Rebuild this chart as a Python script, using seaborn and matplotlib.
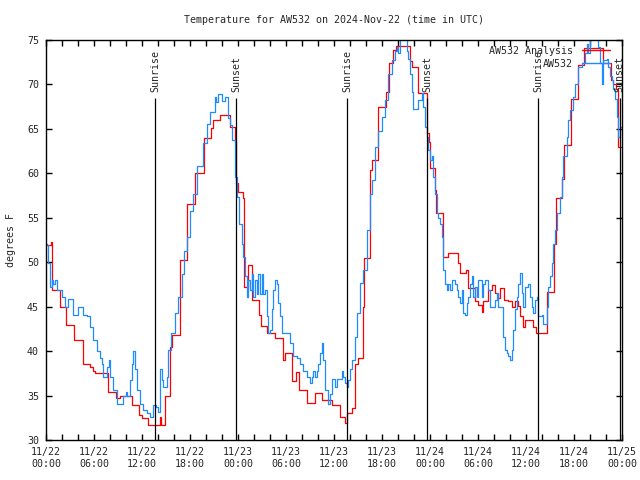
import numpy as np
import pandas as pd
import matplotlib
matplotlib.use("Agg")
import matplotlib.pyplot as plt
import matplotlib.dates as mdates
from matplotlib.lines import Line2D
import seaborn as sns

# hours since 2024-11-22 00:00 UTC
analysis_hours = [0, 0.6, 0.7, 0.8, 1.7, 2.55, 3.55, 4.65, 5.5, 5.9, 6.1, 7.8, 8.8, 9.2, 10.7,
                  11.6, 12.0, 12.8, 14.2, 14.4, 14.9, 15.5, 15.8, 16.7, 17.6, 18.6, 19.7, 20.6,
                  20.9, 21.75, 23.0, 23.6, 23.8, 24.0, 24.6, 24.75, 25.3, 25.7, 26.67, 26.85,
                  27.6, 28.6, 29.67, 29.9, 30.7, 31.3, 31.67, 32.67, 33.6, 34.5, 35.7, 36.75,
                  37.4, 37.6, 38.2, 38.6, 39.0, 39.6, 39.75, 40.5, 40.8, 41.5, 42.5, 42.9, 43.4,
                  43.8, 45.5, 45.7, 46.5, 47.67, 47.85, 48.0, 48.6, 48.7, 49.67, 50.3, 51.55,
                  51.75, 52.5, 52.8, 53.6, 54.0, 54.45, 54.6, 55.3, 55.7, 56.1, 56.5, 56.7, 57.2,
                  57.8, 58.2, 58.6, 59.0, 59.25, 59.65, 59.9, 60.9, 61.3, 62.6, 63.5, 63.75,
                  64.45, 64.75, 65.6, 66.5, 67.2, 69.65, 70.6, 70.9, 71.3, 71.55, 72.0]
analysis_temp = [51.9, 52.3, 49.5, 46.9, 45.0, 42.9, 41.25, 38.6, 38.2, 37.8, 37.5, 35.4, 34.7, 35.0, 33.9,
                 32.8, 32.5, 31.7, 32.6, 31.7, 34.9, 40.5, 41.8, 50.25, 56.6, 60.0, 64.0, 65.1,
                 66.0, 66.6, 65.25, 63.6, 58.9, 57.9, 57.2, 47.25, 49.7, 45.75, 44.1, 42.8,
                 42.0, 41.5, 39.0, 39.8, 36.6, 37.6, 35.6, 34.2, 35.3, 34.5, 33.9, 32.6,
                 31.9, 33.0, 33.6, 38.6, 39.2, 45.0, 50.5, 60.4, 61.5, 67.5, 69.2, 72.4, 73.9,
                 74.3, 72.6, 72.0, 69.0, 64.5, 63.5, 60.6, 58.1, 55.5, 50.6, 51.0, 49.9,
                 48.75, 49.1, 47.1, 45.6, 45.2, 44.4, 45.6, 46.9, 47.4, 46.5, 46.0, 47.1, 45.8,
                 45.6, 45.0, 45.6, 45.1, 43.9, 42.75, 43.5, 42.75, 42.0, 46.6, 52.1, 57.2,
                 59.4, 63.2, 68.4, 72.2, 74.1, 72.4, 70.5, 70.1, 69.5, 63.0, 63.0]

station_hours = [0, 0.08, 0.29, 0.5, 0.71, 0.92, 1.13, 1.33, 1.96, 2.38, 2.79, 3.42, 4.04, 4.67,
                 5.08, 5.5, 5.92, 6.33, 6.75, 6.96, 7.17, 7.58, 7.875, 8.0, 8.42, 8.92, 9.67,
                 10.0, 10.17, 10.5, 10.71, 10.92, 11.125, 11.33, 11.75, 12.08, 12.58, 13.0,
                 13.42, 13.75, 14.04, 14.25, 14.46, 14.67, 15.08, 15.29, 15.625, 16.125, 16.54,
                 16.96, 17.25, 17.58, 18.0, 18.42, 18.83, 19.67, 20.08, 20.5, 21.125, 21.3,
                 21.54, 21.96, 22.375, 22.79, 23.0, 23.3, 23.625, 23.83, 24.17, 24.46, 24.67,
                 24.875, 25.08, 25.29, 25.5, 25.71, 25.92, 26.125, 26.33, 26.54, 26.75, 26.96,
                 27.17, 27.375, 27.58, 27.79, 28.0, 28.2, 28.42, 28.625, 28.83, 29.04, 29.25,
                 29.46, 30.5, 30.92, 31.33, 31.75, 32.17, 32.58, 33.0, 33.2, 33.42, 33.625,
                 33.83, 34.04, 34.25, 34.46, 34.67, 34.875, 35.29, 35.5, 35.71, 36.125, 36.33,
                 36.96, 37.17, 37.375, 37.58, 37.79, 38.0, 38.2, 38.625, 38.83, 39.25, 39.67,
                 40.08, 40.5, 40.71, 41.125, 41.54, 41.96, 42.375, 42.79, 43.2, 43.625, 43.83,
                 44.04, 44.25, 44.67, 45.08, 45.29, 45.5, 45.71, 45.92, 46.33, 46.54, 46.96,
                 47.17, 47.375, 47.58, 47.79, 48.0, 48.2, 48.42, 48.625, 48.83, 49.04, 49.25,
                 49.46, 49.67, 49.875, 50.08, 50.29, 50.5, 50.71, 50.92, 51.125, 51.33, 51.54,
                 51.75, 51.96, 52.17, 52.375, 52.58, 52.79, 53.0, 53.2, 53.42, 53.625, 53.83,
                 54.04, 54.25, 54.46, 54.67, 54.875, 55.08, 55.29, 55.5, 55.92, 56.125, 56.33,
                 56.54, 56.96, 57.17, 57.375, 57.58, 57.79, 58.0, 58.2, 58.42, 58.625, 58.83,
                 59.04, 59.25, 59.46, 59.67, 59.875, 60.08, 60.29, 60.5, 60.71, 60.92, 61.125,
                 61.33, 61.54, 61.96, 62.17, 62.58, 62.79, 63.0, 63.2, 63.42, 63.625, 63.83,
                 64.25, 64.46, 64.67, 65.08, 65.29, 65.5, 65.92, 66.125, 66.54, 66.96, 67.375,
                 67.58, 67.79, 68.0, 68.83, 69.04, 69.25, 69.46, 69.67, 70.08, 70.29, 70.5,
                 70.71, 70.92, 71.125, 71.33, 71.54, 71.75, 72.0]
station_temp = [52.0, 51.9, 49.9, 47.2, 48.0, 47.5, 48.0, 46.9, 46.1, 45.0, 45.9, 44.1, 45.0, 44.1,
                43.9, 42.7, 41.3, 40.0, 39.2, 38.6, 37.1, 38.2, 39.0, 37.1, 35.6, 34.1, 34.9,
                35.4, 35.0, 36.8, 38.6, 40.0, 38.0, 35.6, 34.1, 33.4, 33.0, 32.6,
                33.9, 33.7, 33.2, 38.0, 36.8, 36.0, 37.1, 40.1, 42.0, 44.3, 46.1,
                48.7, 51.3, 52.8, 55.8, 57.7, 60.8, 63.4, 65.6, 66.9, 68.6, 68.0,
                68.9, 68.1, 68.6, 66.2, 65.4, 63.7, 59.6, 57.3, 54.3, 52.1, 50.6,
                48.4, 46.1, 48.0, 46.9, 48.7, 46.1, 48.0, 46.4, 48.7, 46.4, 48.7,
                46.4, 46.9, 43.9, 42.0, 42.4, 44.7, 46.9, 48.0, 47.6, 45.4, 43.9,
                42.0, 40.9, 39.4, 39.2, 38.6, 37.8, 37.1, 36.4, 37.1, 37.8, 37.1,
                37.8, 38.6, 39.8, 40.9, 39.0, 35.6, 34.1, 35.2, 36.9, 36.0, 36.9,
                37.8, 37.1, 36.4, 36.0, 36.8, 38.0, 39.0, 41.6, 44.3, 47.7, 49.1,
                53.6, 57.7, 59.2, 63.0, 64.8, 66.3, 68.2, 71.2, 72.7, 73.8, 74.2,
                73.5, 75.5, 75.5, 73.8, 72.9, 71.2, 69.2, 67.2, 67.2, 68.2, 69.0,
                67.5, 65.2, 64.1, 62.6, 61.5, 62.0, 59.6, 57.7, 55.5, 55.0, 54.3,
                52.8, 49.1, 47.6, 46.9, 47.6, 46.9, 48.0, 48.0, 47.6, 46.9, 46.1,
                45.4, 46.9, 44.3, 44.1, 45.4, 46.1, 47.6, 48.4, 46.1, 47.2, 46.1,
                48.0, 48.0, 46.1, 47.6, 48.0, 48.0, 46.9, 45.0, 45.0, 45.8, 46.5,
                45.0, 45.0, 41.6, 40.1, 39.8, 39.4, 39.0, 40.1, 42.4, 44.7, 46.1,
                47.6, 48.8, 46.5, 45.0, 47.2, 47.2, 47.6, 46.1, 45.0, 44.3, 45.8,
                46.1, 43.9, 44.1, 43.1, 45.0, 47.2, 48.4, 49.9, 52.1, 53.6, 55.5,
                57.3, 59.6, 61.9, 64.1, 66.0, 67.1, 68.6, 70.1, 72.0, 72.4, 73.5,
                74.6, 73.5, 75.5, 75.5, 74.2, 72.4, 70.1, 72.7, 72.9, 72.0, 71.0,
                70.5, 69.5, 68.4, 66.3, 64.1, 65.2, 65.2]

sunrise_hours = [13.68, 37.68, 61.5]
sunset_hours = [23.8, 47.67, 71.7]

series_names = ["AW532 Analysis", "AW532"]
series_colors = ["#ff0000", "#1e8cff"]

start = pd.Timestamp("2024-11-22 00:00")

def to_time(hours):
    return start + pd.to_timedelta(np.array(hours), unit="h")

df = pd.concat([
    pd.DataFrame({"time": to_time(analysis_hours), "temp": analysis_temp, "series": series_names[0]}),
    pd.DataFrame({"time": to_time(station_hours), "temp": station_temp, "series": series_names[1]}),
], ignore_index=True)

sns.set_style("ticks")
plt.rcParams["font.family"] = ["DejaVu Sans Mono"]
fs = 7.2

fig = plt.figure(figsize=(6.4, 4.8), dpi=100)
ax = fig.add_axes([46 / 640, 40 / 480, 576 / 640, 400 / 480])

sns.lineplot(data=df, x="time", y="temp", hue="series", hue_order=series_names,
             palette=dict(zip(series_names, series_colors)), drawstyle="steps-post",
             linewidth=0.9, estimator=None, legend=False, ax=ax)

# sunrise / sunset markers
for label, hours in (("Sunrise", sunrise_hours), ("Sunset", sunset_hours)):
    for t in to_time(hours):
        ax.vlines(t, 30, 68.5, color="black", linewidth=0.9, zorder=3)
        ax.text(t, 69.2, label, rotation=90, ha="center", va="bottom", fontsize=fs)

ax.set_xlim(start, start + pd.Timedelta(hours=72))
ax.set_ylim(30, 75)
ax.set_yticks(range(30, 80, 5))
ax.xaxis.set_major_locator(mdates.HourLocator(byhour=range(0, 24, 6)))
ax.xaxis.set_minor_locator(mdates.HourLocator(byhour=range(0, 24, 2)))
ax.xaxis.set_major_formatter(mdates.DateFormatter("%m/%d\n%H:%M"))
ax.tick_params(axis="both", which="both", direction="in", top=True, right=True,
               length=4, width=1, labelsize=fs, color="black")
ax.tick_params(axis="x", pad=5)
ax.tick_params(axis="y", pad=5)
for s in ax.spines.values():
    s.set_linewidth(1)
    s.set_color("black")

ax.set_xlabel("")
ax.set_ylabel("degrees F", fontsize=fs, labelpad=8)
ax.set_title("Temperature for AW532 on 2024-Nov-22 (time in UTC)", fontsize=fs, pad=12)

handles = [Line2D([], [], color=c, linewidth=1.0) for c in series_colors]
leg = ax.legend(handles, series_names, loc="upper right", bbox_to_anchor=(0.979, 0.985),
                frameon=False, markerfirst=False, fontsize=fs, handlelength=2.8,
                handletextpad=0.9, labelspacing=0.3, borderpad=0, borderaxespad=0)
leg.set_zorder(10)

fig.savefig("out.png", dpi=100)
